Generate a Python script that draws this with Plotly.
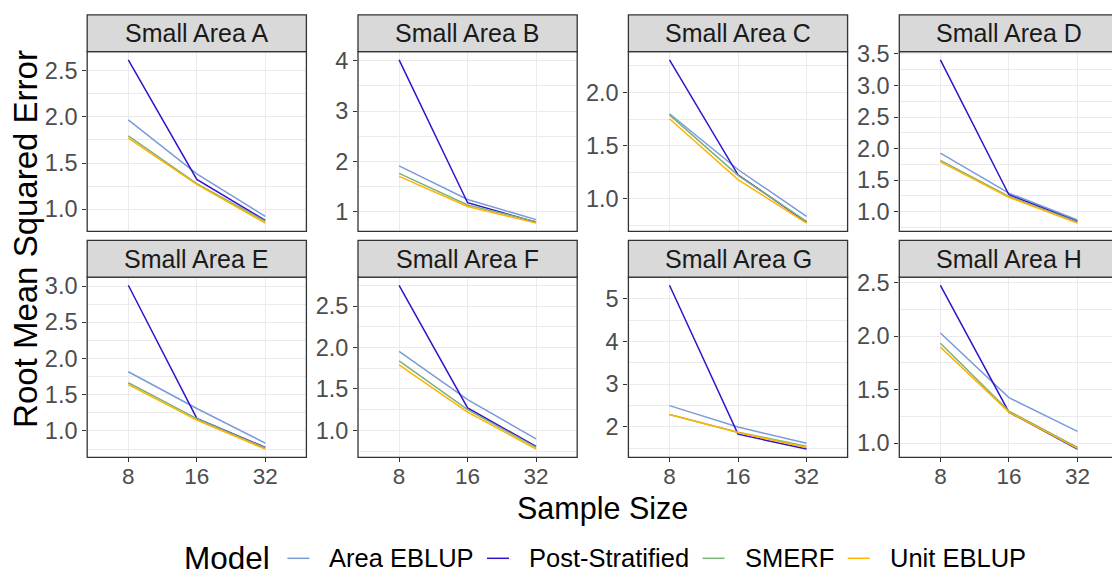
import plotly.graph_objects as go

# ---------------- data ----------------
sample_sizes = ["8", "16", "32"]
areas = ["Small Area A", "Small Area B", "Small Area C", "Small Area D",
         "Small Area E", "Small Area F", "Small Area G", "Small Area H"]
models = ["Area EBLUP", "Post-Stratified", "SMERF", "Unit EBLUP"]

area_eblup = [
    [1.968, 1.383, 0.922],
    [1.91, 1.24, 0.84],
    [1.80, 1.275, 0.833],
    [1.93, 1.295, 0.87],
    [1.817, 1.31, 0.832],
    [1.952, 1.37, 0.897],
    [2.50, 2.00, 1.615],
    [2.03, 1.426, 1.11],
]
post_stratified = [
    [2.617, 1.323, 0.88],
    [4.02, 1.176, 0.79],
    [2.308, 1.225, 0.78],
    [3.407, 1.27, 0.845],
    [3.01, 1.173, 0.773],
    [2.75, 1.27, 0.806],
    [5.32, 1.83, 1.48],
    [2.475, 1.29, 0.945],
]
smerf = [
    [1.795, 1.277, 0.87],
    [1.76, 1.13, 0.80],
    [1.79, 1.22, 0.787],
    [1.815, 1.245, 0.84],
    [1.665, 1.17, 0.765],
    [1.837, 1.25, 0.794],
    [2.29, 1.876, 1.55],
    [1.934, 1.30, 0.96],
]
unit_eblup = [
    [1.77, 1.27, 0.85],
    [1.70, 1.10, 0.77],
    [1.753, 1.18, 0.77],
    [1.79, 1.23, 0.82],
    [1.64, 1.15, 0.75],
    [1.79, 1.22, 0.774],
    [2.29, 1.87, 1.52],
    [1.897, 1.29, 0.952],
]

# ---------------- style ----------------
W, H = 1112, 576
colors = {"Area EBLUP": "#7B9BD9", "Post-Stratified": "#3412CC",
          "SMERF": "#7DB17B", "Unit EBLUP": "#FFB300"}
series = {"Area EBLUP": area_eblup, "Post-Stratified": post_stratified,
          "SMERF": smerf, "Unit EBLUP": unit_eblup}
y_dticks = [0.5, 1, 0.5, 0.5, 0.5, 0.5, 1, 0.5]

FONT = "Liberation Sans, Arial, Helvetica, sans-serif"
TICK_COLOR = "#4D4D4D"
BORDER = "#333333"
GRID = "#EBEBEB"

col_x = [(87.2, 306.4), (358.0, 577.2), (628.4, 847.6), (899.3, 1118.5)]
row_y = [(42.4, 225.2), (271.8, 455.2)]
strip_h = 37.4


def px(x):
    return x / W


def py(y):
    return 1 - y / H


fig = go.Figure()
shapes = []
annotations = []
layout = {}

for i, area in enumerate(areas):
    r, c = divmod(i, 4)
    n = "" if i == 0 else str(i + 1)
    x0, x1 = col_x[c]
    y0, y1 = row_y[r]
    for m in models:
        fig.add_trace(go.Scatter(
            x=sample_sizes, y=series[m][i], mode="lines",
            line=dict(color=colors[m], width=1.5),
            name=m, showlegend=False, hoverinfo="x+y+name",
            xaxis="x" + n, yaxis="y" + n))

    allv = [v for m in models for v in series[m][i]]
    lo, hi = min(allv), max(allv)
    pad = 0.05 * (hi - lo)

    # x axis (discrete, ggplot expansion 0.6)
    ppu = (x1 - x0) / 3.2
    d_end = min(x1, W)
    xr = [-0.6, -0.6 + (d_end - x0) / ppu]
    layout["xaxis" + n] = dict(
        domain=[px(x0), px(d_end)], anchor="y" + n,
        type="category", categoryorder="array", categoryarray=sample_sizes,
        range=xr, showgrid=True, gridcolor=GRID, gridwidth=1.1,
        zeroline=False, showline=False,
        ticks="outside" if r == 1 else "", ticklen=4, tickwidth=1.1,
        tickcolor=BORDER, showticklabels=(r == 1), ticklabelstandoff=-5,
        tickfont=dict(family=FONT, size=22.5, color=TICK_COLOR),
        fixedrange=True)
    dt = y_dticks[i]
    layout["yaxis" + n] = dict(
        domain=[py(y1), py(y0)], anchor="x" + n,
        range=[lo - pad, hi + pad], tick0=0, dtick=dt,
        tickformat=".1f" if dt < 1 else "d",
        showgrid=True, gridcolor=GRID, gridwidth=1.1,
        minor=dict(dtick=dt / 2, tick0=0, showgrid=True, gridcolor=GRID,
                   gridwidth=0.6, ticks=""),
        zeroline=False, showline=False,
        ticks="outside", ticklen=4, tickwidth=1.1, tickcolor=BORDER,
        tickfont=dict(family=FONT, size=23.5, color=TICK_COLOR),
        fixedrange=True)

    # panel border
    shapes.append(dict(type="rect", xref="paper", yref="paper",
                       x0=px(x0), x1=px(x1), y0=py(y1), y1=py(y0),
                       line=dict(color=BORDER, width=1.3),
                       fillcolor="rgba(0,0,0,0)", layer="above"))
    # strip
    shapes.append(dict(type="rect", xref="paper", yref="paper",
                       x0=px(x0), x1=px(x1), y0=py(y0), y1=py(y0 - strip_h),
                       line=dict(color=BORDER, width=1.3),
                       fillcolor="#D9D9D9", layer="above"))
    annotations.append(dict(text=area, xref="paper", yref="paper",
                            x=px((x0 + x1) / 2), y=py(y0 - strip_h / 2),
                            showarrow=False, xanchor="center", yanchor="middle",
                            font=dict(family=FONT, size=25, color="#1A1A1A")))

# axis titles
annotations.append(dict(text="Sample Size", xref="paper", yref="paper",
                        x=px(602.8), y=py(507), showarrow=False,
                        xanchor="center", yanchor="middle",
                        font=dict(family=FONT, size=30.5, color="black")))
annotations.append(dict(text="Root Mean Squared Error", xref="paper", yref="paper",
                        x=px(26), y=py(233), showarrow=False, textangle=-90,
                        xanchor="center", yanchor="middle",
                        font=dict(family=FONT, size=33, color="black")))

# legend (drawn manually, ggplot style)
leg_y = 558
annotations.append(dict(text="Model", xref="paper", yref="paper",
                        x=px(182), y=py(leg_y), showarrow=False,
                        xanchor="left", yanchor="middle",
                        font=dict(family=FONT, size=31.5, color="black")))
key_x = [287.4, 487.0, 702.5, 847.7]
text_x = [326.5, 527.4, 742.7, 888.0]
for m, kx, tx in zip(models, key_x, text_x):
    shapes.append(dict(type="line", xref="paper", yref="paper",
                       x0=px(kx), x1=px(kx + 22), y0=py(leg_y), y1=py(leg_y),
                       line=dict(color=colors[m], width=1.5)))
    annotations.append(dict(text=m, xref="paper", yref="paper",
                            x=px(tx), y=py(leg_y), showarrow=False,
                            xanchor="left", yanchor="middle",
                            font=dict(family=FONT, size=25.5, color="black")))

fig.update_layout(
    width=W, height=H, margin=dict(l=0, r=0, t=0, b=0),
    paper_bgcolor="white", plot_bgcolor="white",
    showlegend=False, shapes=shapes, annotations=annotations,
    font=dict(family=FONT),
    **layout)

fig.write_html("out.html")
